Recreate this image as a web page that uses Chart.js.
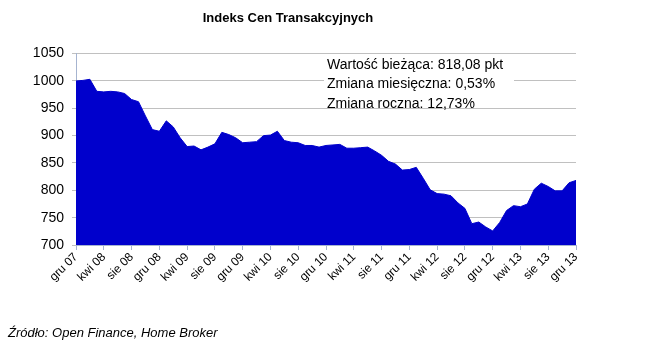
<!DOCTYPE html>
<html>
<head>
<meta charset="utf-8">
<script src="https://cdn.jsdelivr.net/npm/chart.js@4"></script>
<style>
  html, body { margin: 0; padding: 0; background: #fff; }
  #wrap { width: 649px; height: 362px; }
</style>
</head>
<body>
<div id="wrap"><canvas id="myChart" width="649" height="362"></canvas></div>
<script>
// miesiące gru 07 .. gru 13
const months = [
  'gru 07',
  'sty 08', 'lut 08', 'mar 08', 'kwi 08', 'maj 08', 'cze 08', 'lip 08', 'sie 08', 'wrz 08', 'paź 08', 'lis 08', 'gru 08',
  'sty 09', 'lut 09', 'mar 09', 'kwi 09', 'maj 09', 'cze 09', 'lip 09', 'sie 09', 'wrz 09', 'paź 09', 'lis 09', 'gru 09',
  'sty 10', 'lut 10', 'mar 10', 'kwi 10', 'maj 10', 'cze 10', 'lip 10', 'sie 10', 'wrz 10', 'paź 10', 'lis 10', 'gru 10',
  'sty 11', 'lut 11', 'mar 11', 'kwi 11', 'maj 11', 'cze 11', 'lip 11', 'sie 11', 'wrz 11', 'paź 11', 'lis 11', 'gru 11',
  'sty 12', 'lut 12', 'mar 12', 'kwi 12', 'maj 12', 'cze 12', 'lip 12', 'sie 12', 'wrz 12', 'paź 12', 'lis 12', 'gru 12',
  'sty 13', 'lut 13', 'mar 13', 'kwi 13', 'maj 13', 'cze 13', 'lip 13', 'sie 13', 'wrz 13', 'paź 13', 'lis 13', 'gru 13'
];

const indexValues = [
  1000,
  1001, 1003, 981, 980, 981, 980, 977, 966, 962, 936, 911, 908,
  927, 916, 896, 880, 881, 874, 879, 885, 906, 902, 896, 887,
  888, 889, 900, 901, 908, 891, 888, 887, 882, 882, 879, 882,
  883, 884, 877, 877, 878, 879, 872, 864, 853, 848, 837, 838,
  842, 822, 801, 794, 793, 790, 777, 767, 739, 742, 733, 725.7,
  741, 763, 772, 770, 775, 802, 813, 807, 799, 799, 813.8, 818.08
];

const yTicks = [700, 750, 800, 850, 900, 950, 1000, 1050];

const infoLines = [
  'Wartość bieżąca: 818,08 pkt',
  'Zmiana miesięczna: 0,53%',
  'Zmiana roczna: 12,73%'
];
const sourceText = 'Źródło: Open Finance, Home Broker';

const overlay = {
  id: 'overlay',
  afterDraw(chart) {
    const ctx = chart.ctx;
    const area = chart.chartArea;
    ctx.save();
    // pole tekstowe z białym tłem
    const bx = chart.scales.x.getPixelForValue(36) - 2;
    ctx.fillStyle = '#fff';
    ctx.fillRect(bx, area.top + 1, 190, 52);
    ctx.fillStyle = '#000';
    ctx.font = '14px "Liberation Sans", Arial, sans-serif';
    ctx.textBaseline = 'alphabetic';
    ctx.textAlign = 'left';
    infoLines.forEach((t, i) => ctx.fillText(t, bx + 3, area.top + 15 + i * 19.5));
    // źródło
    ctx.font = 'italic 13px "Liberation Sans", Arial, sans-serif';
    ctx.fillText(sourceText, 8, 337);
    ctx.restore();
  }
};

const config = {
  type: 'line',
  data: {
    labels: months,
    datasets: [{
      label: 'Indeks Cen Transakcyjnych',
      data: indexValues,
      borderColor: 'rgb(0, 0, 204)',
      backgroundColor: 'rgb(0, 0, 204)',
      borderWidth: 1,
      pointRadius: 0,
      tension: 0,
      fill: 'start'
    }]
  },
  options: {
    responsive: false,
    animation: false,
    layout: {
      padding: { left: 0, right: 73, top: 0, bottom: 0 }
    },
    plugins: {
      legend: { display: false },
      tooltip: { enabled: false },
      title: {
        display: true,
        text: 'Indeks Cen Transakcyjnych',
        color: '#000',
        font: { family: '"Liberation Sans", Arial, sans-serif', size: 13, weight: 'bold' },
        padding: { top: 11, bottom: 27 }
      }
    },
    scales: {
      x: {
        offset: false,
        afterFit: (axis) => { axis.height = 117; },
        grid: {
          drawOnChartArea: false,
          drawTicks: true,
          tickLength: 5,
          color: (c) => (c.index % 4 === 0 ? '#a6b4d0' : 'rgba(0,0,0,0)')
        },
        border: { color: '#a6b4d0' },
        ticks: {
          autoSkip: false,
          maxRotation: 45,
          minRotation: 45,
          color: '#000',
          padding: 0,
          font: { family: '"Liberation Sans", Arial, sans-serif', size: 12 },
          callback: function (value, index) {
            return index % 4 === 0 ? months[index] : '';
          }
        }
      },
      y: {
        min: yTicks[0],
        max: yTicks[yTicks.length - 1],
        afterFit: (axis) => { axis.width = 76; },
        afterBuildTicks: (axis) => { axis.ticks = yTicks.map(v => ({ value: v })); },
        grid: { color: '#c0c0c0', drawTicks: true, tickLength: 4 },
        border: { color: '#a6b4d0' },
        ticks: {
          color: '#000',
          padding: 8,
          font: { family: '"Liberation Sans", Arial, sans-serif', size: 14 },
          callback: (v) => String(v)
        }
      }
    }
  },
  plugins: [overlay]
};

window.myChart = new Chart(document.getElementById('myChart'), config);
</script>
</body>
</html>
